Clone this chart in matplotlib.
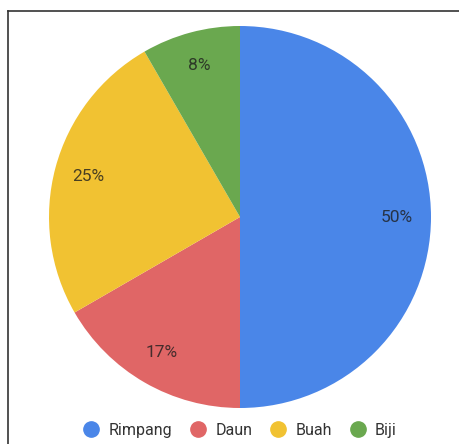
import matplotlib.pyplot as plt
from matplotlib.lines import Line2D

labels = ['Rimpang', 'Daun', 'Buah', 'Biji']
values = [6, 2, 3, 1]
colors = ['#4a86e8', '#e06666', '#f1c232', '#6aa84f']

plt.rcParams['font.family'] = ['Roboto', 'DejaVu Sans']

fig = plt.figure(figsize=(4.6, 4.44), dpi=100)
ax = fig.add_axes([49 / 460, 36 / 444, 382 / 460, 382 / 444])

wedges, texts, autotexts = ax.pie(
    values, colors=colors, startangle=90, counterclock=False,
    autopct='%1.0f%%', pctdistance=0.82,
    textprops={'fontsize': 12.5, 'color': '#1e1e1e', 'alpha': 0.8})
ax.set_xlim(-1, 1)
ax.set_ylim(-1, 1)
ax.set_aspect('equal')

# top and left border lines of the screenshot
fig.add_artist(Line2D([8 / 460, 1], [1 - 11 / 444, 1 - 11 / 444],
                      color='#333333', lw=1.2))
fig.add_artist(Line2D([8 / 460, 8 / 460], [0, 1 - 11 / 444],
                      color='#333333', lw=1.2))

handles = [Line2D([], [], marker='o', ls='', markersize=11,
                  markerfacecolor=c, markeredgecolor=c) for c in colors]
fig.legend(handles, labels, loc='center', bbox_to_anchor=(0.52, 1 - 430 / 444),
           ncol=4, frameon=False, fontsize=11.5, handletextpad=0.5,
           handlelength=1.2, columnspacing=1.0, labelcolor='#333333')

fig.savefig('out.png', dpi=100)
